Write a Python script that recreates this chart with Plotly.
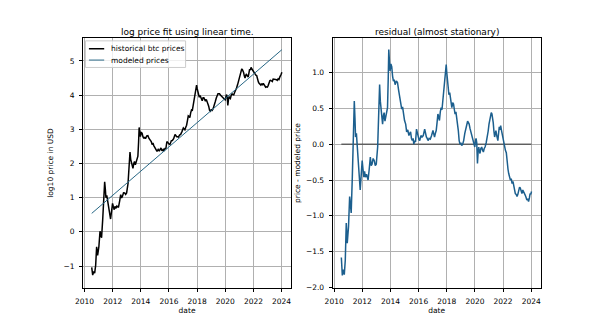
import numpy as np
import plotly.graph_objects as go

# ---- data ----
# dates as fractional years; residual = log10 price - modeled log10 price
dates = [
    2010.51, 2010.58, 2010.65, 2010.72, 2010.79, 2010.86, 2010.93, 2011.02, 2011.10, 2011.16,
    2011.21, 2011.29, 2011.36, 2011.43, 2011.48, 2011.52, 2011.58, 2011.66, 2011.75, 2011.85,
    2011.92, 2011.99, 2012.05, 2012.11, 2012.16, 2012.22, 2012.30, 2012.41, 2012.49, 2012.57,
    2012.63, 2012.69, 2012.77, 2012.85, 2012.92, 2012.99, 2013.09, 2013.16, 2013.23, 2013.28,
    2013.32, 2013.38, 2013.44, 2013.50, 2013.55, 2013.61, 2013.67, 2013.73, 2013.79, 2013.84,
    2013.88, 2013.93, 2013.97, 2014.03, 2014.09, 2014.15, 2014.21, 2014.27, 2014.33, 2014.42,
    2014.50, 2014.58, 2014.68, 2014.74, 2014.80, 2014.86, 2014.92, 2015.00, 2015.08, 2015.15,
    2015.23, 2015.31, 2015.37, 2015.43, 2015.49, 2015.55, 2015.61, 2015.66, 2015.72, 2015.78,
    2015.85, 2015.91, 2015.97, 2016.03, 2016.08, 2016.16, 2016.24, 2016.33, 2016.43, 2016.49,
    2016.55, 2016.61, 2016.67, 2016.75, 2016.83, 2016.92, 2017.02, 2017.08, 2017.13, 2017.19,
    2017.25, 2017.31, 2017.37, 2017.43, 2017.48, 2017.54, 2017.60, 2017.66, 2017.72, 2017.78,
    2017.84, 2017.91, 2017.96, 2018.00, 2018.03, 2018.09, 2018.15, 2018.21, 2018.27, 2018.32,
    2018.36, 2018.42, 2018.48, 2018.54, 2018.59, 2018.65, 2018.71, 2018.77, 2018.82, 2018.88,
    2018.94, 2019.00, 2019.06, 2019.13, 2019.20, 2019.28, 2019.36, 2019.42, 2019.48, 2019.54,
    2019.59, 2019.65, 2019.71, 2019.77, 2019.83, 2019.91, 2019.99, 2020.04, 2020.08, 2020.13,
    2020.18, 2020.23, 2020.27, 2020.32, 2020.36, 2020.42, 2020.48, 2020.54, 2020.60, 2020.66,
    2020.72, 2020.80, 2020.88, 2020.94, 2021.00, 2021.06, 2021.12, 2021.16, 2021.21, 2021.25,
    2021.30, 2021.35, 2021.40, 2021.45, 2021.49, 2021.55, 2021.63, 2021.68, 2021.73, 2021.78,
    2021.83, 2021.88, 2021.94, 2022.00, 2022.05, 2022.11, 2022.17, 2022.23, 2022.29, 2022.35,
    2022.40, 2022.46, 2022.52, 2022.58, 2022.64, 2022.70, 2022.76, 2022.82, 2022.87, 2022.93,
    2022.99, 2023.05, 2023.11, 2023.17, 2023.22, 2023.28, 2023.34, 2023.40, 2023.46, 2023.52,
    2023.57, 2023.63, 2023.69, 2023.75, 2023.81, 2023.87, 2023.92, 2023.97, 2024.02,
]
residual = [
    -1.58, -1.83, -1.75, -1.82, -1.62, -1.10, -1.38, -1.15, -0.73, -0.85,
    -0.96, -0.46, 0.10, 0.60, 0.35, 0.10, 0.15, -0.04, -0.35, -0.64,
    -0.45, -0.23, -0.35, -0.46, -0.38, -0.46, -0.42, -0.50, -0.35, -0.18,
    -0.30, -0.28, -0.20, -0.23, -0.30, -0.28, -0.04, 0.30, 0.83, 0.60,
    0.51, 0.35, 0.28, 0.40, 0.44, 0.32, 0.37, 0.45, 0.51, 0.90,
    1.32, 1.15, 1.02, 1.12, 1.08, 0.95, 0.88, 0.90, 0.83, 0.88,
    0.86, 0.75, 0.65, 0.60, 0.49, 0.52, 0.42, 0.33, 0.28, 0.17,
    0.20, 0.12, 0.15, 0.17, 0.08, 0.05, 0.08, 0.00, 0.05, 0.03,
    0.21, 0.15, 0.10, 0.06, 0.05, 0.12, 0.10, 0.12, 0.21, 0.14,
    0.10, 0.08, 0.05, 0.08, 0.07, 0.12, 0.19, 0.14, 0.10, 0.15,
    0.19, 0.30, 0.42, 0.38, 0.33, 0.45, 0.51, 0.48, 0.60, 0.65,
    0.79, 0.95, 1.11, 1.00, 0.92, 0.78, 0.69, 0.72, 0.65, 0.55,
    0.51, 0.58, 0.56, 0.48, 0.42, 0.45, 0.37, 0.30, 0.19, 0.05,
    0.00, 0.02, -0.02, 0.00, 0.05, 0.15, 0.24, 0.30, 0.32, 0.30,
    0.28, 0.22, 0.18, 0.12, 0.08, 0.02, -0.04, 0.05, 0.08, 0.02,
    -0.27, -0.10, -0.04, -0.10, -0.13, -0.06, -0.04, -0.08, -0.11, -0.06,
    -0.04, 0.02, 0.10, 0.18, 0.28, 0.35, 0.40, 0.44, 0.42, 0.37,
    0.30, 0.18, 0.10, 0.15, 0.19, 0.12, 0.05, 0.15, 0.24, 0.20,
    0.26, 0.20, 0.14, 0.05, 0.00, -0.05, -0.09, -0.12, -0.27, -0.35,
    -0.41, -0.45, -0.50, -0.48, -0.55, -0.52, -0.59, -0.62, -0.69, -0.70,
    -0.73, -0.70, -0.64, -0.60, -0.61, -0.66, -0.69, -0.64, -0.66, -0.70,
    -0.71, -0.74, -0.78, -0.76, -0.80, -0.75, -0.69, -0.70, -0.66,
]
# modeled (linear-in-time) log10 price line: endpoints
model_dates = [2010.51, 2024.02]
model_values = [0.54, 5.33]

x_ticks = [2010, 2012, 2014, 2016, 2018, 2020, 2022, 2024]
left_y_ticks = [-1, 0, 1, 2, 3, 4, 5]
right_y_ticks = [-2.0, -1.5, -1.0, -0.5, 0.0, 0.5, 1.0]

# historical log price = modeled line + residual
t = np.array(dates)
log_price = np.interp(t, model_dates, model_values) + np.array(residual)

W, H = 600, 328
FONT = "DejaVu Sans"
BLUE = "#1c5f8e"
MODEL = "#276785"

fig = go.Figure()
fig.add_trace(go.Scatter(x=dates, y=log_price, mode="lines", name="historical btc prices",
                         line=dict(color="black", width=1.5), xaxis="x", yaxis="y",
                         showlegend=False))
fig.add_trace(go.Scatter(x=model_dates, y=model_values, mode="lines", name="modeled prices",
                         line=dict(color=MODEL, width=1), xaxis="x", yaxis="y",
                         showlegend=False))
fig.add_trace(go.Scatter(x=[dates[0], dates[-1]], y=[0, 0], mode="lines",
                         line=dict(color="#333333", width=1), xaxis="x2", yaxis="y2",
                         showlegend=False))
fig.add_trace(go.Scatter(x=dates, y=residual, mode="lines",
                         line=dict(color=BLUE, width=1.5), xaxis="x2", yaxis="y2",
                         showlegend=False))

def px_x(p):
    return p / W

def px_y(p):
    return 1 - p / H

axis_common = dict(showline=True, linecolor="black", linewidth=1, mirror=True,
                   showgrid=True, gridcolor="#b0b0b0", gridwidth=1,
                   ticks="outside", ticklen=3, tickcolor="black", tickwidth=1,
                   ticklabelstandoff=3,
                   zeroline=False, tickfont=dict(family=FONT, size=7.5, color="black"),
                   fixedrange=True)

xrange_ = [2009.89, 2024.68]
fig.update_layout(
    width=W, height=H, margin=dict(l=0, r=0, t=0, b=0),
    paper_bgcolor="white", plot_bgcolor="white",
    font=dict(family=FONT, size=7.5, color="black"),
    xaxis=dict(domain=[px_x(76), px_x(287)], range=xrange_, tickvals=x_ticks,
               anchor="y", title=dict(text="date", standoff=2,
                                      font=dict(family=FONT, size=7.5)), **axis_common),
    yaxis=dict(domain=[px_y(292), px_y(39)], range=[-1.63, 5.66], tickvals=left_y_ticks,
               anchor="x", title=dict(text="log10 price in USD", standoff=8,
                                      font=dict(family=FONT, size=7.5)), **axis_common),
    xaxis2=dict(domain=[px_x(329), px_x(540)], range=xrange_, tickvals=x_ticks,
                anchor="y2", title=dict(text="date", standoff=2,
                                        font=dict(family=FONT, size=7.5)), **axis_common),
    yaxis2=dict(domain=[px_y(292), px_y(39)], range=[-2.0, 1.475], tickvals=right_y_ticks,
                tickformat=".1f", anchor="x2",
                title=dict(text="price - modeled price", standoff=4,
                           font=dict(family=FONT, size=7.5)), **axis_common),
)

# subplot titles
fig.add_annotation(text="log price fit using linear time.", x=(px_x(76) + px_x(287)) / 2,
                   y=px_y(32.5), xref="paper", yref="paper", xanchor="center", yanchor="middle",
                   showarrow=False, font=dict(family=FONT, size=9, color="black"))
fig.add_annotation(text="residual (almost stationary)", x=(px_x(329) + px_x(540)) / 2,
                   y=px_y(32.5), xref="paper", yref="paper", xanchor="center", yanchor="middle",
                   showarrow=False, font=dict(family=FONT, size=9, color="black"))

# legend (matplotlib-style box in upper-left of left axes)
lx0, ly0, lx1, ly1 = 78.5, 41.5, 180, 68.5
fig.add_shape(type="rect", xref="paper", yref="paper",
              x0=px_x(lx0), x1=px_x(lx1), y0=px_y(ly1), y1=px_y(ly0),
              line=dict(color="#cccccc", width=1), fillcolor="rgba(255,255,255,0.8)",
              layer="above")
legend_items = [("historical btc prices", "black", 1.5, 49.5),
                ("modeled prices", MODEL, 1, 61)]
for label, col, w, yy in legend_items:
    fig.add_shape(type="line", xref="paper", yref="paper",
                  x0=px_x(82), x1=px_x(97.5), y0=px_y(yy), y1=px_y(yy),
                  line=dict(color=col, width=w), layer="above")
    fig.add_annotation(text=label, x=px_x(102.5), y=px_y(yy), xref="paper", yref="paper",
                       xanchor="left", yanchor="middle", showarrow=False,
                       font=dict(family=FONT, size=7.5, color="black"))

fig.write_html("out.html")
